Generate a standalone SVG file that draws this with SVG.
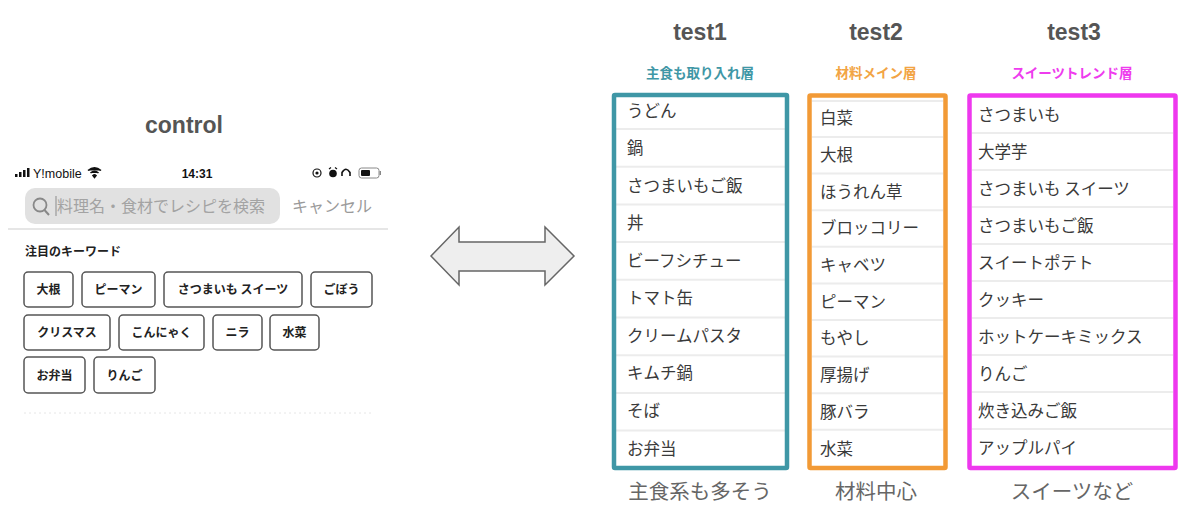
<svg xmlns="http://www.w3.org/2000/svg" width="1200" height="527" viewBox="0 0 1200 527">
<style>
.hd{font-family:"Liberation Sans",Arial,sans-serif;font-weight:bold;font-size:23px;fill:#555;text-anchor:middle}
.jp{font-family:"Noto Sans CJK JP","Noto Sans",sans-serif}
.sub{font-size:13.5px;font-weight:bold;text-anchor:middle}
.it{font-size:16.5px;fill:#3a3a3a}
.sep{stroke:#ececec;stroke-width:2}
.foot{font-size:20.5px;fill:#666;text-anchor:middle}
.chip rect{fill:#fff;stroke:#555;stroke-width:1.5}
.chip text{font-family:"Noto Sans CJK JP",sans-serif;font-size:12px;font-weight:bold;fill:#222;text-anchor:middle}
</style>
<rect width="1200" height="527" fill="#fff"/>

<g id="control">
<text class="hd" x="184" y="133">control</text>
<g id="statusbar">
<rect x="15" y="174" width="2.5" height="3" fill="#111"/>
<rect x="19" y="172" width="2.5" height="5" fill="#111"/>
<rect x="23" y="170" width="2.5" height="7" fill="#111"/>
<rect x="27" y="168" width="2.5" height="9" fill="#111"/>
<text x="33" y="177.5" font-family="Liberation Sans,Arial,sans-serif" font-size="12.5" fill="#111">Y!mobile</text>
<path d="M88 170.5 Q94.5 165 101 170.5 M90.5 173 Q94.5 169.5 98.5 173 M93 175.5 L94.5 177.5 L96 175.5 Q94.5 174 93 175.5Z" stroke="#111" stroke-width="1.6" fill="#111"/>
<text x="197" y="177.5" font-family="Liberation Sans,Arial,sans-serif" font-size="12" font-weight="bold" fill="#111" text-anchor="middle">14:31</text>
<circle cx="317" cy="173" r="4" fill="none" stroke="#111" stroke-width="1.2"/>
<circle cx="317" cy="173" r="1.6" fill="#111"/>
<circle cx="333" cy="173.5" r="3.8" fill="#111"/>
<path d="M329 169 L331 167.5 M337 169 L335 167.5" stroke="#111" stroke-width="1.2"/>
<path d="M342 176 L342 172.5 Q346 166 350 172.5 L350 176" fill="none" stroke="#111" stroke-width="1.6"/>
<rect x="359" y="168" width="20" height="10" rx="2.5" fill="none" stroke="#888" stroke-width="1"/>
<rect x="361" y="170" width="9" height="6" rx="1" fill="#111"/>
<rect x="379.5" y="171" width="1.5" height="4" fill="#888"/>
</g>
<g id="searchbar">
<rect x="25" y="188" width="255" height="36" rx="10" fill="#e1e1e1"/>
<circle cx="40" cy="205" r="6.5" fill="none" stroke="#888" stroke-width="1.8"/>
<line x1="44.5" y1="210" x2="49" y2="215" stroke="#888" stroke-width="2"/>
<line x1="56" y1="196" x2="56" y2="216" stroke="#999" stroke-width="1.2"/>
<text class="jp" x="57" y="212" font-size="16" fill="#a3a3a3">料理名・食材でレシピを検索</text>
<text class="jp" x="292" y="212" font-size="16" fill="#9a9a9a">キャンセル</text>
<line x1="8" y1="229" x2="388" y2="229" stroke="#dedede" stroke-width="1.5"/>
</g>
<text class="jp" x="25" y="256" font-size="12" font-weight="bold" fill="#222">注目のキーワード</text>
<g class="chip" id="chip1"><rect x="24" y="272" width="49" height="35" rx="4"/><text x="48.5" y="294">大根</text></g>
<g class="chip" id="chip2"><rect x="82" y="272" width="73" height="35" rx="4"/><text x="118.5" y="294">ピーマン</text></g>
<g class="chip" id="chip3"><rect x="164" y="272" width="138" height="35" rx="4"/><text x="233" y="294">さつまいも スイーツ</text></g>
<g class="chip" id="chip4"><rect x="311" y="272" width="61" height="35" rx="4"/><text x="341.5" y="294">ごぼう</text></g>
<g class="chip" id="chip5"><rect x="24" y="315" width="86" height="35" rx="4"/><text x="67" y="337">クリスマス</text></g>
<g class="chip" id="chip6"><rect x="119" y="315" width="85" height="35" rx="4"/><text x="161.5" y="337">こんにゃく</text></g>
<g class="chip" id="chip7"><rect x="213" y="315" width="49" height="35" rx="4"/><text x="237.5" y="337">ニラ</text></g>
<g class="chip" id="chip8"><rect x="270" y="315" width="49" height="35" rx="4"/><text x="294.5" y="337">水菜</text></g>
<g class="chip" id="chip9"><rect x="24" y="357" width="61" height="36" rx="4"/><text x="54.5" y="380">お弁当</text></g>
<g class="chip" id="chip10"><rect x="94" y="357" width="61" height="36" rx="4"/><text x="124.5" y="380">りんご</text></g>
<line x1="24" y1="413" x2="372" y2="413" stroke="#e6e6e6" stroke-width="1" stroke-dasharray="2 3"/>
</g>

<g id="connectors">
<polygon points="431,256 459,227 459,242 545,242 545,227 574,256 545,285 545,271 459,271 459,285" fill="#eeeeee" stroke="#666" stroke-width="1.5" stroke-linejoin="miter"/>
</g>

<g id="test1">
<text class="hd" x="700" y="40">test1</text>
<text class="jp sub" x="700" y="78" fill="#3f97a6">主食も取り入れ層</text>
<g class="sep">
<line x1="616" y1="129" x2="785" y2="129"/><line x1="616" y1="166.7" x2="785" y2="166.7"/><line x1="616" y1="204.4" x2="785" y2="204.4"/>
<line x1="616" y1="242.1" x2="785" y2="242.1"/><line x1="616" y1="279.8" x2="785" y2="279.8"/><line x1="616" y1="317.5" x2="785" y2="317.5"/>
<line x1="616" y1="355.2" x2="785" y2="355.2"/><line x1="616" y1="392.9" x2="785" y2="392.9"/><line x1="616" y1="430.6" x2="785" y2="430.6"/>
</g>
<g class="jp it">
<text x="627" y="117">うどん</text>
<text x="627" y="154">鍋</text>
<text x="627" y="191.5">さつまいもご飯</text>
<text x="627" y="229">丼</text>
<text x="627" y="266.5">ビーフシチュー</text>
<text x="627" y="304">トマト缶</text>
<text x="627" y="341.5">クリームパスタ</text>
<text x="627" y="379">キムチ鍋</text>
<text x="627" y="416.5">そば</text>
<text x="627" y="454.5">お弁当</text>
</g>
<rect x="614" y="95" width="173" height="373" fill="none" stroke="#3f97a6" stroke-width="4.5" rx="1"/>
<text class="jp foot" x="700" y="499">主食系も多そう</text>
</g>

<g id="test2">
<text class="hd" x="876" y="40">test2</text>
<text class="jp sub" x="876" y="78" fill="#f2a444">材料メイン層</text>
<g class="sep">
<line x1="812" y1="101" x2="943" y2="101"/>
<line x1="812" y1="137" x2="943" y2="137"/><line x1="812" y1="173.6" x2="943" y2="173.6"/><line x1="812" y1="210.2" x2="943" y2="210.2"/>
<line x1="812" y1="246.8" x2="943" y2="246.8"/><line x1="812" y1="283.4" x2="943" y2="283.4"/><line x1="812" y1="320" x2="943" y2="320"/>
<line x1="812" y1="356.6" x2="943" y2="356.6"/><line x1="812" y1="393.2" x2="943" y2="393.2"/><line x1="812" y1="429.8" x2="943" y2="429.8"/>
</g>
<g class="jp it">
<text x="820" y="124">白菜</text>
<text x="820" y="161">大根</text>
<text x="820" y="197.5">ほうれん草</text>
<text x="820" y="234">ブロッコリー</text>
<text x="820" y="271">キャベツ</text>
<text x="820" y="307.5">ピーマン</text>
<text x="820" y="344">もやし</text>
<text x="820" y="381">厚揚げ</text>
<text x="820" y="417.5">豚バラ</text>
<text x="820" y="454.5">水菜</text>
</g>
<rect x="809.5" y="95.5" width="136" height="372.5" fill="none" stroke="#f29a36" stroke-width="4.5" rx="1"/>
<text class="jp foot" x="876" y="499">材料中心</text>
</g>

<g id="test3">
<text class="hd" x="1074" y="40">test3</text>
<text class="jp sub" x="1072" y="78" fill="#ee3cee">スイーツトレンド層</text>
<g class="sep">
<line x1="972" y1="133" x2="1173" y2="133"/><line x1="972" y1="170" x2="1173" y2="170"/><line x1="972" y1="207" x2="1173" y2="207"/>
<line x1="972" y1="244" x2="1173" y2="244"/><line x1="972" y1="281" x2="1173" y2="281"/><line x1="972" y1="318" x2="1173" y2="318"/>
<line x1="972" y1="355" x2="1173" y2="355"/><line x1="972" y1="392" x2="1173" y2="392"/><line x1="972" y1="429" x2="1173" y2="429"/>
</g>
<g class="jp it">
<text x="978" y="120.5">さつまいも</text>
<text x="978" y="157.5">大学芋</text>
<text x="978" y="194.5">さつまいも スイーツ</text>
<text x="978" y="231.5">さつまいもご飯</text>
<text x="978" y="268.5">スイートポテト</text>
<text x="978" y="305.5">クッキー</text>
<text x="978" y="342.5">ホットケーキミックス</text>
<text x="978" y="379.5">りんご</text>
<text x="978" y="416.5">炊き込みご飯</text>
<text x="978" y="454">アップルパイ</text>
</g>
<rect x="969.5" y="95.5" width="206" height="372.5" fill="none" stroke="#ee38ee" stroke-width="4.5" rx="1"/>
<text class="jp foot" x="1072" y="499">スイーツなど</text>
</g>
</svg>
